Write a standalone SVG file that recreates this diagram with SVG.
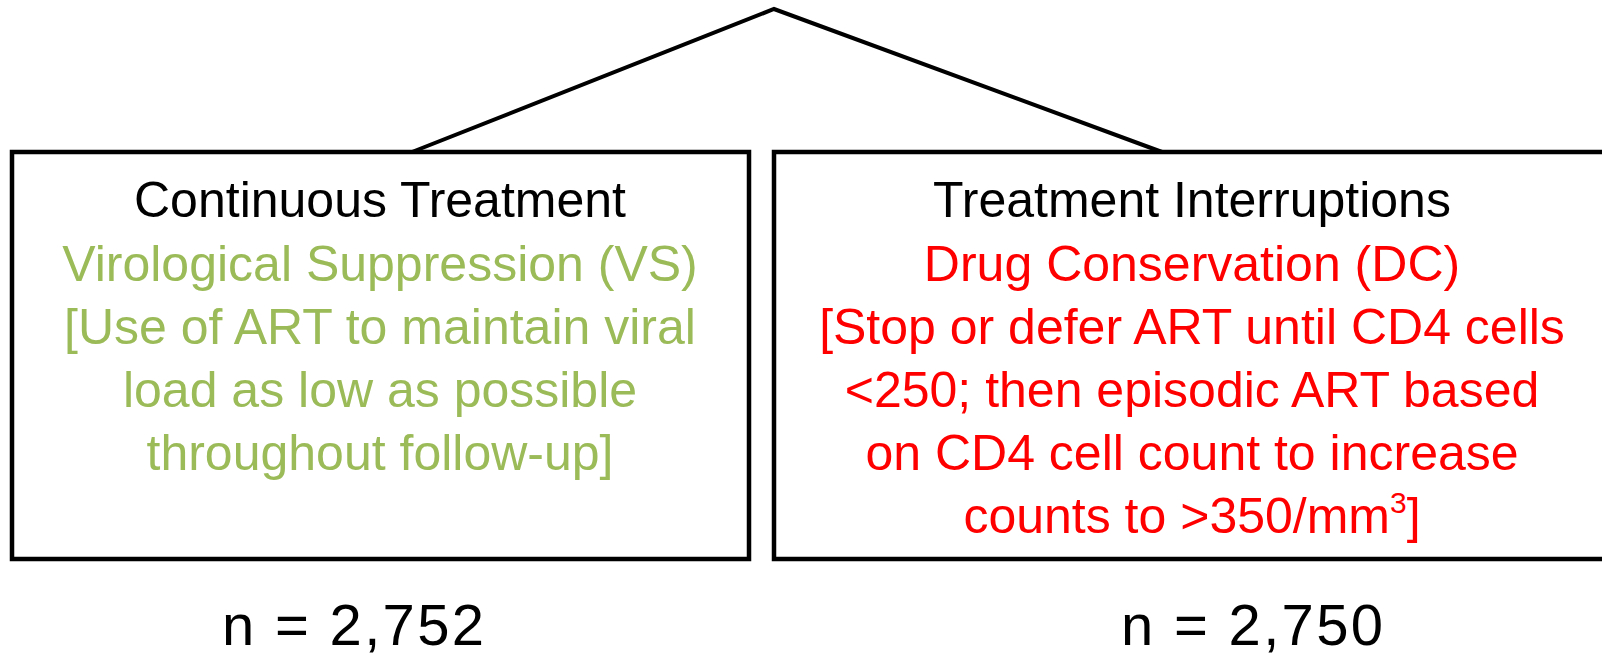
<svg xmlns="http://www.w3.org/2000/svg" width="1602" height="658" viewBox="0 0 1602 658">
<style>
.box{fill:#fff;stroke:#000;stroke-width:4.5}
.conn{fill:none;stroke:#000;stroke-width:4;stroke-linejoin:miter}
text{font-family:"Liberation Sans",Arial,sans-serif;font-size:50px;text-anchor:middle}
.title{fill:#000}
.green{fill:#9BBB59}
.red{fill:#FF0000}
.n{fill:#000;font-size:58px}
</style>
<rect width="1602" height="658" fill="#fff"/>
<g id="connectors">
<polyline class="conn" points="412,152 774,9 1162,152"/>
</g>
<g id="node-continuous">
<rect class="box" x="12" y="152" width="737" height="407"/>
<text class="title" x="380" y="217">Continuous Treatment</text>
<text class="green" x="380" y="281">Virological Suppression (VS)</text>
<text class="green" x="380" y="344">[Use of ART to maintain viral</text>
<text class="green" x="380" y="407">load as low as possible</text>
<text class="green" x="380" y="470">throughout follow-up]</text>
</g>
<g id="node-interruptions">
<rect class="box" x="774" y="152" width="840" height="407"/>
<text class="title" x="1192" y="217">Treatment Interruptions</text>
<text class="red" x="1192" y="281">Drug Conservation (DC)</text>
<text class="red" x="1192" y="344">[Stop or defer ART until CD4 cells</text>
<text class="red" x="1192" y="407">&lt;250; then episodic ART based</text>
<text class="red" x="1192" y="470">on CD4 cell count to increase</text>
<text class="red" x="1192" y="533">counts to &gt;350/mm<tspan font-size="30" dy="-20">3</tspan><tspan dy="20">]</tspan></text>
</g>
<g id="label-n-left">
<text class="n" x="353" y="645" textLength="262" lengthAdjust="spacing">n = 2,752</text>
</g>
<g id="label-n-right">
<text class="n" x="1252" y="645" textLength="262" lengthAdjust="spacing">n = 2,750</text>
</g>
</svg>
